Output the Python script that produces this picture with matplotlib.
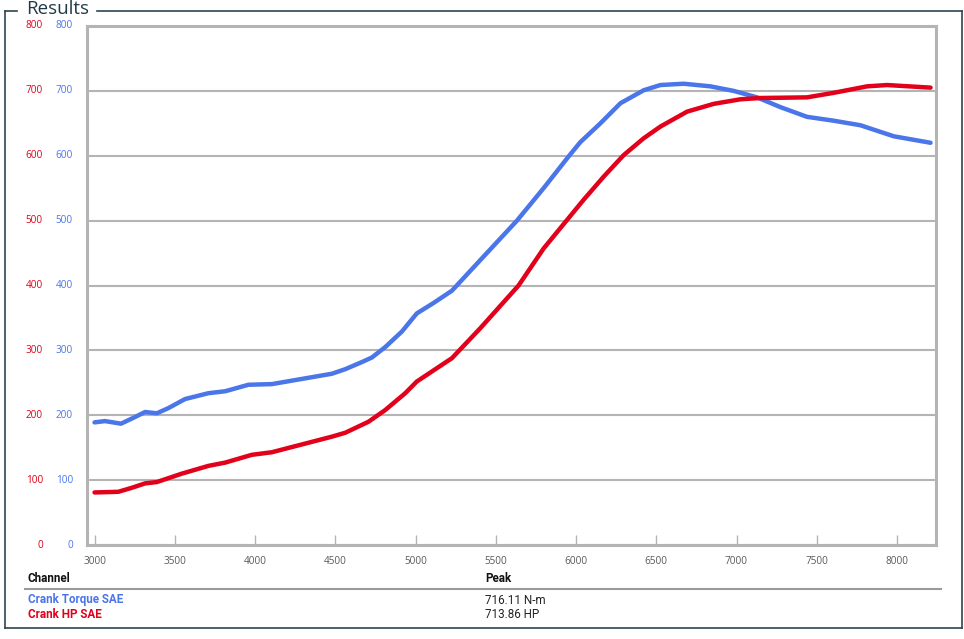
import matplotlib
matplotlib.use("Agg")
import matplotlib.pyplot as plt
from matplotlib.lines import Line2D
from matplotlib.transforms import blended_transform_factory

# dyno sweep
torque_rpm = [3000, 3065, 3165, 3250, 3315, 3388, 3460, 3564, 3710, 3814, 3959, 4105,
              4292, 4479, 4562, 4666, 4728, 4811, 4915, 5008, 5112, 5227, 5403, 5632,
              5798, 5954, 6027, 6152, 6277, 6422, 6526, 6671, 6837, 6982, 7128, 7273,
              7439, 7606, 7772, 7980, 8209]
torque = [189, 191, 187, 197, 205, 203, 211, 225, 234, 237, 247, 248,
          256, 264, 271, 282, 289, 305, 329, 357, 373, 392, 439, 500,
          550, 599, 621, 650, 681, 701, 709, 711, 707, 700, 690, 675,
          660, 654, 647, 630, 620]

hp_rpm = [3000, 3148, 3230, 3315, 3388, 3544, 3710, 3814, 3980, 4105, 4292, 4479,
          4562, 4707, 4811, 4936, 5008, 5227, 5403, 5642, 5798, 5944, 6047, 6173,
          6297, 6422, 6526, 6692, 6858, 7024, 7149, 7439, 7606, 7814, 7938, 8209]
hp = [81, 82, 88, 95, 97, 110, 122, 127, 139, 143, 155, 167,
      173, 190, 208, 234, 252, 288, 334, 400, 457, 501, 532, 568,
      601, 627, 645, 668, 680, 687, 689, 690, 697, 707, 709, 705]

x_ticks = [3000, 3500, 4000, 4500, 5000, 5500, 6000, 6500, 7000, 7500, 8000]
y_ticks = [0, 100, 200, 300, 400, 500, 600, 700, 800]

channels = ["Crank Torque SAE", "Crank HP SAE"]
peaks = ["716.11 N-m", "713.86 HP"]

BLUE = "#4a76ea"
RED = "#e2001a"
GRID = "#b4b4b4"
FRAME = "#2c4650"

W, H = 964, 639
fig = plt.figure(figsize=(W / 100, H / 100), dpi=100)


def fx(px):
    return px / W


def fy(py):
    return 1 - py / H


ax = fig.add_axes([fx(87), fy(545), fx(936) - fx(87), fy(26) - fy(545)])
ax.plot(torque_rpm, torque, color=BLUE, lw=3.2, solid_joinstyle="round",
        solid_capstyle="round", zorder=3)
ax.plot(hp_rpm, hp, color=RED, lw=3.2, solid_joinstyle="round",
        solid_capstyle="round", zorder=4)

ax.set_xlim(2953, 8243)
ax.set_ylim(0, 800)
ax.set_xticks(x_ticks)
ax.set_xticklabels([str(t) for t in x_ticks], fontsize=7.2, color="#5a5a5a",
                   family="Open Sans")
ax.set_yticks(y_ticks)
ax.set_yticklabels([])
ax.tick_params(axis="x", direction="in", length=7, width=1, color=GRID, pad=8)
ax.tick_params(axis="y", length=0)
ax.grid(axis="y", color=GRID, lw=1.5)
ax.set_axisbelow(True)
for s in ax.spines.values():
    s.set_color(GRID)
    s.set_linewidth(2.2)

# two sets of y labels on the left (HP red, torque blue)
tr = blended_transform_factory(fig.transFigure, ax.transData)
for v in y_ticks:
    ax.text(fx(43), v, str(v), transform=tr, ha="right", va="center",
            fontsize=7.2, color=RED, family="Open Sans")
    ax.text(fx(73), v, str(v), transform=tr, ha="right", va="center",
            fontsize=7.2, color=BLUE, family="Open Sans")

# outer frame with the title breaking the top edge
fl, fr, ft, fb = 4.5, 961.5, 10.5, 627.5
fig.add_artist(Line2D([fx(fl), fx(fl)], [fy(ft), fy(fb)], color=FRAME, lw=1.2))
fig.add_artist(Line2D([fx(fr), fx(fr)], [fy(ft), fy(fb)], color=FRAME, lw=1.2))
fig.add_artist(Line2D([fx(fl), fx(fr)], [fy(fb), fy(fb)], color=FRAME, lw=1.2))
fig.add_artist(Line2D([fx(fl), fx(17)], [fy(ft), fy(ft)], color=FRAME, lw=1.2))
fig.add_artist(Line2D([fx(97), fx(fr)], [fy(ft), fy(ft)], color=FRAME, lw=1.2))
fig.text(fx(26), fy(9), "Results", fontsize=13.5, color="#1f3a46",
         family="Open Sans", fontweight="medium", ha="left", va="center")

# table under the chart
fig.text(fx(28), fy(578), "Channel", fontsize=8.4, fontweight="bold",
         color="#111111", family="Roboto", va="center")
fig.text(fx(485), fy(578), "Peak", fontsize=8.4, fontweight="bold",
         color="#111111", family="Roboto", va="center")
fig.add_artist(Line2D([fx(25), fx(941)], [fy(589), fy(589)], color="#9a9a9a", lw=1.5))
row_colors = [BLUE, RED]
row_y = [600, 615]
for name, peak, c, y in zip(channels, peaks, row_colors, row_y):
    fig.text(fx(28), fy(y), name, fontsize=8.4, fontweight="bold", color=c,
             family="Roboto", va="center")
    fig.text(fx(485), fy(y), peak, fontsize=8.4, color="#222222",
             family="Roboto", va="center")

fig.savefig("out.png", dpi=100)
